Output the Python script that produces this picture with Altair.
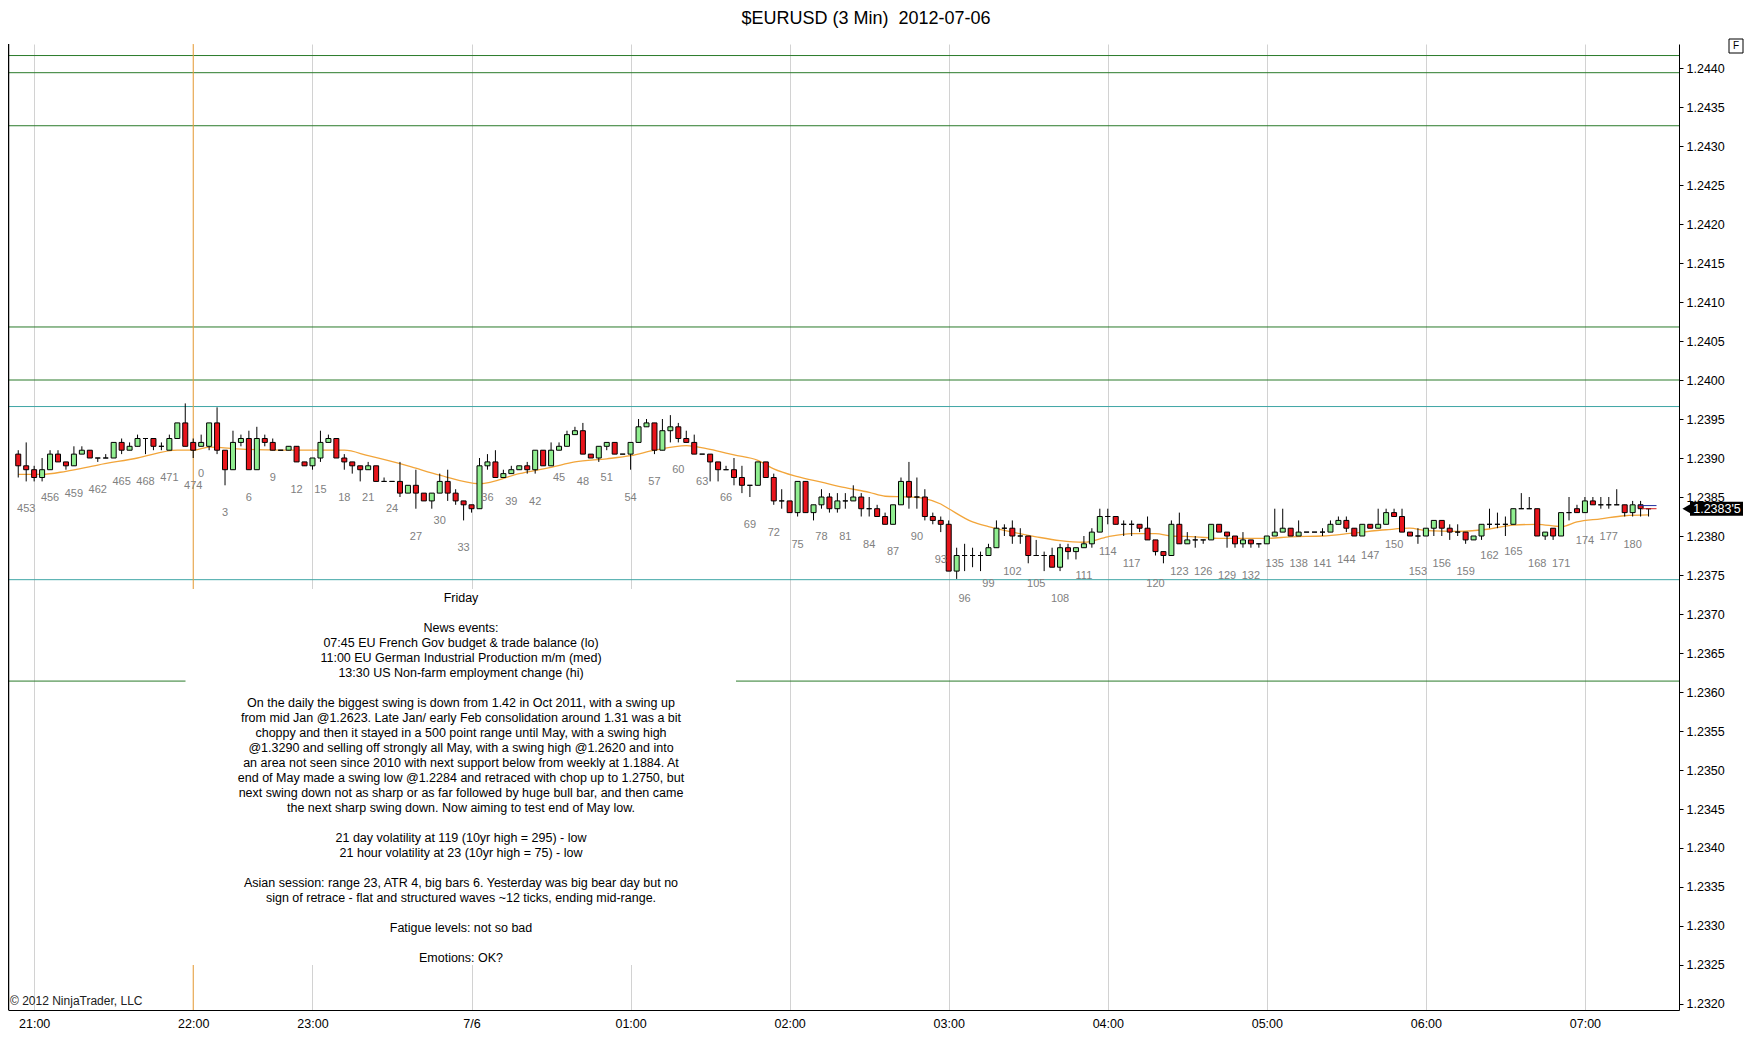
import altair as alt
import pandas as pd

# ---------------- data (prices stored as pips above 1.2300) ----------------
BASE = 1.2300

opens = [
    90.5, 89, 88.5, 87.5, 88.5, 90.5, 89.5, 89, 90.5, 91,
    90, 90, 90, 92, 91, 91.5, 92.5, 92.5, 91.5, 91,
    92.5, 94.5, 92, 91.5, 91.5, 94.5, 91, 88.5, 92, 92.5,
    88.5, 92.5, 92, 91, 91, 91.5, 89.5, 89, 90, 92,
    92.5, 90, 89.5, 89, 88.5, 89, 87, 87, 87, 85.5,
    86.5, 85.5, 84.5, 85.5, 87, 85.5, 84.5, 84, 83.5, 89,
    89.5, 87.5, 88, 88.5, 89, 88.5, 91, 89, 91, 91.5,
    93, 93.5, 90.5, 90, 91.5, 92, 90.5, 90.5, 92, 94,
    94.5, 91, 93.5, 94, 92.5, 92, 90.5, 90.5, 89.5, 88.5,
    88.5, 87.5, 86.5, 86.5, 89.5, 87.5, 84.5, 84.5, 83, 87,
    83, 84, 85, 83.5, 84.5, 84.5, 85, 83.5, 83.5, 82.5,
    81.5, 84, 87, 85, 85, 82.5, 82, 81.5, 75.5, 77.5,
    77.5, 77.5, 77.5, 78.5, 81, 81, 80, 80, 77.5, 77.5,
    77.5, 76, 78.5, 78, 78.5, 79, 80.5, 82.5, 82.5, 81.5,
    81.5, 81.5, 81, 79.5, 78, 77.5, 81.5, 79, 79.5, 79.5,
    79.5, 81.5, 80.5, 80, 79, 79.5, 79, 79, 80, 80.5,
    81, 80, 80.5, 80.5, 80.5, 80.5, 81.5, 82, 81, 80,
    81.5, 81, 81.5, 83, 82.5, 80.5, 80, 80, 81, 82,
    81, 80.5, 80.5, 79.5, 80, 81.5, 81.5, 81.5, 81.5, 83.5,
    83.5, 83.5, 80, 81, 80, 83, 83.5, 83, 84.5, 84,
    84, 84, 84, 83, 84, 83.5,
]
highs = [
    91, 92, 89, 90, 91, 91, 89.5, 91.5, 91.5, 91,
    90, 90.5, 92, 92.5, 92, 93, 92.5, 92.5, 92, 93,
    94.5, 97, 92.5, 93, 94.5, 96.5, 91, 93.5, 93, 93.5,
    94, 93, 92.5, 91, 91.5, 91.5, 89.5, 90, 93.5, 93,
    92.5, 90.5, 89.5, 89, 89.5, 89, 87.5, 87, 89.5, 86.5,
    88.5, 85.5, 85.5, 88, 88.5, 86, 84.5, 84, 90, 90.5,
    91, 88.5, 89, 89, 89.5, 91, 91, 92, 92, 93.5,
    94, 94.5, 90.5, 91.5, 92, 92, 90.5, 92, 95, 95,
    94.5, 95, 95.5, 94.5, 93.5, 93, 90.5, 90.5, 89.5, 89,
    90, 89, 86.5, 89.5, 89.5, 88, 86, 84.5, 87, 87,
    84, 86, 85.5, 85.5, 85.5, 86.5, 85.5, 85, 84, 83,
    84, 87.5, 89.5, 87.5, 86, 83, 82.5, 82, 78.5, 79,
    78.5, 78, 79, 82, 81.5, 82, 81, 80, 79.5, 78,
    78.5, 79, 79, 78.5, 80, 81, 83.5, 83.5, 82.5, 82,
    82, 81.5, 82.5, 79.5, 78, 82, 83, 80.5, 80, 79.5,
    81.5, 81.5, 80.5, 80, 80.5, 79.5, 79, 80, 83.5, 83.5,
    81, 82, 80.5, 80.5, 81, 82, 82.5, 82.5, 81, 81.5,
    81.5, 83.5, 83.5, 83.5, 83.5, 80.5, 81, 81, 82, 82,
    81.5, 81.5, 80.5, 80, 81.5, 83.5, 83, 82.5, 83.5, 85.5,
    85, 83.5, 80.5, 81, 83, 85, 84, 85, 85, 85,
    85, 86, 84, 84.5, 84.5, 83.5,
]
lows = [
    87.5, 87, 87, 87, 88.5, 89.5, 88.5, 89, 90.5, 90,
    89.5, 90, 90, 90.5, 91, 91.5, 90.5, 91, 91, 91,
    92.5, 91.5, 90, 91.5, 91, 90.5, 86.5, 88.5, 91.5, 88.5,
    88.5, 91.5, 91, 91, 91, 89.5, 89, 88.5, 89.5, 92,
    90, 88.5, 88, 87, 88.5, 87, 87, 87, 85, 85.5,
    83.5, 84.5, 83.5, 85.5, 84.5, 84, 82, 83, 83.5, 88.5,
    87.5, 87.5, 88, 88.5, 88, 88, 89, 89, 91, 91.5,
    93, 90.5, 90, 89.5, 91, 90.5, 90.5, 88.5, 92, 94,
    90.5, 91, 92, 92, 92, 90.5, 90.5, 87, 87, 88.5,
    86.5, 85.5, 85, 86.5, 87.5, 84, 83.5, 83, 82.5, 83,
    82, 83.5, 83, 83, 83.5, 84.5, 82.5, 82.5, 82.5, 81.5,
    81.5, 84, 83.5, 83.5, 82, 81.5, 80.5, 75.5, 74.5, 75.5,
    76, 75.5, 77.5, 78.5, 80, 79, 79, 76.5, 77.5, 75.5,
    76, 75.5, 77, 77, 78.5, 78.5, 80.5, 81.5, 81.5, 80,
    80, 80.5, 79.5, 77.5, 76.5, 77.5, 79, 79, 78.5, 79,
    79.5, 80.5, 78.5, 78.5, 78.5, 78.5, 78.5, 79, 80, 80.5,
    80, 80, 80.5, 80.5, 80, 80.5, 81.5, 80.5, 80, 80,
    81, 81, 81.5, 82.5, 80.5, 80, 79, 80, 80, 80,
    79.5, 80, 79, 79.5, 79.5, 81, 81, 80, 81.5, 83.5,
    83.5, 80, 79.5, 79.5, 80, 82, 83, 83, 84, 83.5,
    83.5, 84, 82.5, 82.5, 82.5, 82.5,
]
closes = [
    89, 88.5, 87.5, 88.5, 90.5, 89.5, 89, 90.5, 91, 90,
    90, 90, 92, 91, 91.5, 92.5, 92.5, 91.5, 91.5, 92.5,
    94.5, 91.5, 91, 92, 94.5, 91, 88.5, 92, 92.5, 88.5,
    92.5, 92, 91, 91, 91.5, 89.5, 89, 90, 92, 92.5,
    90, 89.5, 89, 88.5, 89, 87, 87, 87, 85.5, 86.5,
    85.5, 84.5, 85.5, 87, 85.5, 84.5, 84, 83.5, 89, 89.5,
    87.5, 88, 88.5, 89, 88.5, 91, 89, 91, 91.5, 93,
    93.5, 90.5, 90, 91.5, 92, 90.5, 90.5, 92, 94, 94.5,
    91, 93.5, 94, 92.5, 92, 90.5, 90.5, 89.5, 88.5, 88.5,
    87.5, 86.5, 86.5, 89.5, 87.5, 84.5, 84.5, 83, 87, 83,
    84, 85, 83.5, 84.5, 84.5, 85, 83.5, 83.5, 82.5, 81.5,
    84, 87, 85, 85, 82.5, 82, 81.5, 75.5, 77.5, 77.5,
    77.5, 77.5, 78.5, 81, 81, 80, 80, 77.5, 77.5, 77.5,
    76, 78.5, 78, 78.5, 79, 80.5, 82.5, 82.5, 81.5, 81.5,
    81.5, 81, 79.5, 78, 77.5, 81.5, 79, 79.5, 79.5, 79.5,
    81.5, 80.5, 80, 79, 79.5, 79, 79, 80, 80.5, 81,
    80, 80.5, 80.5, 80.5, 80.5, 81.5, 82, 81, 80, 81.5,
    81, 81.5, 83, 82.5, 80.5, 80, 80, 81, 82, 81,
    80.5, 80.5, 79.5, 80, 81.5, 81.5, 81.5, 81.5, 83.5, 83.5,
    83.5, 80, 80.5, 80, 83, 83, 83, 84.5, 84, 84,
    84, 84, 83, 84, 83.5, 83.5,
]
bar_numbers = list(range(452, 475)) + list(range(0, 183))

# moving average (bar position, pips above 1.2300)
ma_index = [0, 3, 6, 10, 15, 20, 22, 24, 29, 36, 41, 44, 49, 53, 58, 63, 67, 70,
            74, 77, 80, 84, 87, 90, 93, 95, 98, 101, 104, 107, 109, 112, 114,
            116, 117, 120, 122, 125, 128, 131, 134, 137, 140, 143, 145, 148, 151,
            154, 157, 160, 164, 168, 172, 175, 177, 181, 185, 188, 191, 194, 196,
            199, 202, 205]
ma_pips = [87.9, 87.9, 88.3, 89.1, 90.0, 91.0, 91.0, 91.4, 91.1, 91.0, 91.0, 90.3,
           89.0, 87.8, 86.7, 88.0, 88.8, 89.5, 89.9, 90.3, 91.0, 91.6, 91.1, 90.4,
           89.7, 88.6, 87.6, 86.9, 86.2, 85.6, 85.1, 85.0, 84.8, 84.1, 83.5, 81.8,
           81.2, 80.5, 79.9, 79.4, 79.2, 79.9, 80.3, 80.3, 80.0, 79.9, 79.7, 79.7,
           79.7, 79.9, 80.0, 80.4, 80.8, 81.0, 80.7, 80.6, 80.9, 81.4, 81.5, 81.2,
           81.8, 82.2, 82.6, 82.7]

time_index = [2, 22, 37, 57, 77, 97, 117, 137, 157, 177, 197]
time_labels = ["21:00", "22:00", "23:00", "7/6", "01:00", "02:00", "03:00",
               "04:00", "05:00", "06:00", "07:00"]
session_break_index = [22]

green_levels = [1.24416, 1.24394, 1.24326, 1.24068, 1.24000, 1.23614]
teal_levels = [1.23966, 1.23744]

last_price = 1.23835
last_price_text = "1.2383'5"
ask_price = 1.23839

title_text = "$EURUSD (3 Min) \u00a02012-07-06"
copyright_text = "\u00a9 2012 NinjaTrader, LLC"
note_lines = [
    "Friday",
    "",
    "News events:",
    "07:45 EU French Gov budget & trade balance (lo)",
    "11:00 EU German Industrial Production m/m (med)",
    "13:30 US Non-farm employment change (hi)",
    "",
    "On the daily the biggest swing is down from 1.42 in Oct 2011, with a swing up",
    "from mid Jan @1.2623. Late Jan/ early Feb consolidation around 1.31 was a bit",
    "choppy and then it stayed in a 500 point range until May, with a swing high",
    "@1.3290 and selling off strongly all May, with a swing high @1.2620 and into",
    "an area not seen since 2010 with next support below from weekly at 1.1884. At",
    "end of May made a swing low @1.2284 and retraced with chop up to 1.2750, but",
    "next swing down not as sharp or as far followed by huge bull bar, and then came",
    "the next sharp swing down. Now aiming to test end of May low.",
    "",
    "21 day volatility at 119 (10yr high = 295) - low",
    "21 hour volatility at 23 (10yr high = 75) - low",
    "",
    "Asian session: range 23, ATR 4, big bars 6. Yesterday was big bear day but no",
    "sign of retrace - flat and structured waves ~12 ticks, ending mid-range.",
    "",
    "Fatigue levels: not so bad",
    "",
    "Emotions: OK?",
]

# ---------------- frames ----------------
def px(v):
    return round(BASE + v / 10000.0, 6)

n = len(opens)
candles = pd.DataFrame({
    "i": list(range(n)),
    "o": [px(v) for v in opens],
    "h": [px(v) for v in highs],
    "l": [px(v) for v in lows],
    "c": [px(v) for v in closes],
    "label": [str(b) if b % 3 == 0 else "" for b in bar_numbers],
})
ma_df = pd.DataFrame({"i": ma_index, "v": [px(v) for v in ma_pips]})
one = pd.DataFrame({"a": [0]})

W, H = 1671, 966
FONT = "Liberation Sans"
GREEN_BODY = "#90EE90"
RED_BODY = "#E8141B"
ORANGE = "#F2A53A"
DKGREEN = "#2A7A2A"
TEAL = "#3FA6A6"

xs = alt.Scale(domain=[-0.66, 208.2], nice=False, zero=False)
ys = alt.Scale(domain=[1.231923, 1.244308], nice=False, zero=False)

label_expr = "[" + ",".join("'%s'" % t for t in time_labels) + "][indexof([" + \
    ",".join(str(v) for v in time_index) + "], datum.value)]"
xax = alt.Axis(values=time_index, labelExpr=label_expr, grid=True, gridColor="#D2D2D2",
               gridWidth=1, ticks=False, domainColor="black", domainWidth=1,
               labelColor="black", labelFont=FONT, labelFontSize=12.5, labelPadding=7,
               labelFlush=False, labelOverlap=False, title=None)
yvals = [round(1.2320 + k * 0.0005, 4) for k in range(25)]
yax = alt.Axis(orient="right", values=yvals, format=".4f", grid=False, tickSize=4,
               tickColor="black", domainColor="black", labelColor="black",
               labelFont=FONT, labelFontSize=12.5, labelPadding=3, title=None,
               labelFlush=False, labelOverlap=False)

X = alt.X("i:Q", scale=xs, axis=xax)


def Y(field):
    return alt.Y(field + ":Q", scale=ys, axis=yax)


green_rules = alt.Chart(pd.DataFrame({"p": green_levels})).mark_rule(
    color=DKGREEN, strokeWidth=1).encode(y=Y("p"))
teal_rules = alt.Chart(pd.DataFrame({"p": teal_levels})).mark_rule(
    color=TEAL, strokeWidth=1).encode(y=Y("p"))
session_rule = alt.Chart(pd.DataFrame({"i": session_break_index})).mark_rule(
    color=ORANGE, strokeWidth=1).encode(x=X)

note_box = alt.Chart(one).mark_rect(fill="white").encode(
    x=alt.value(177.5), x2=alt.value(728), y=alt.value(545), y2=alt.value(921))

# split the note into blocks of consecutive non-blank lines (blank lines keep their gap)
LINE_H = 15.03
FIRST_Y = 553.5
blocks = []
cur, start = [], None
for k, s in enumerate(note_lines):
    if s:
        if start is None:
            start = k
        cur.append(s)
    else:
        if cur:
            blocks.append((start, cur))
        cur, start = [], None
if cur:
    blocks.append((start, cur))

note_layers = []
for start, lines in blocks:
    note_layers.append(
        alt.Chart(pd.DataFrame({"t": ["\n".join(lines)]})).mark_text(
            lineBreak="\n", lineHeight=LINE_H, font=FONT, fontSize=12.5, color="black",
            align="center", baseline="middle").encode(
            x=alt.value(453), y=alt.value(FIRST_Y + start * LINE_H), text="t:N")
    )

ma_line = alt.Chart(ma_df).mark_line(color=ORANGE, strokeWidth=1.3,
                                     interpolate="monotone").encode(x=X, y=Y("v"))

wicks = alt.Chart(candles).mark_rule(color="black", strokeWidth=1).encode(
    x=X, y=Y("l"), y2="h:Q")
bodies = alt.Chart(candles).mark_bar(size=5, stroke="black", strokeWidth=1).encode(
    x=X, y=Y("o"), y2="c:Q",
    fill=alt.condition("datum.c >= datum.o", alt.value(GREEN_BODY), alt.value(RED_BODY)))
bar_labels = alt.Chart(candles).transform_filter("datum.label != ''").mark_text(
    font=FONT, fontSize=11, color="#808080", dy=28, baseline="middle").encode(
    x=X, y=Y("l"), text="label:N")

quote_df = pd.DataFrame({"x1": [203.8, 204.2], "x2": [206.0, 206.0],
                         "p": [ask_price, last_price], "col": ["#1F2F9F", "#D42020"]})
quote_lines = alt.Chart(quote_df).mark_rule(strokeWidth=1).encode(
    x=alt.X("x1:Q", scale=xs, axis=xax), x2="x2:Q", y=Y("p"),
    color=alt.Color("col:N", scale=None))

mk = pd.DataFrame({"p": [last_price], "lo": [last_price - 0.00009],
                   "hi": [last_price + 0.00009], "t": [last_price_text]})
marker_rect = alt.Chart(mk).mark_rect(fill="black").encode(
    x=alt.value(1682), x2=alt.value(1735), y=Y("lo"), y2="hi:Q")
marker_tri = alt.Chart(mk).mark_point(shape="triangle-left", filled=True,
                                      fill="black", opacity=1, size=110).encode(
    x=alt.value(1679), y=Y("p"))
marker_txt = alt.Chart(mk).mark_text(font=FONT, fontSize=12.5, color="white",
                                     align="center", baseline="middle").encode(
    x=alt.value(1709), y=Y("p"), text="t:N")

title = alt.Chart(one).mark_text(font=FONT, fontSize=18, color="black",
                                 align="center", baseline="middle").encode(
    x=alt.value(858), y=alt.value(-25), text=alt.value(title_text))
copyright_mark = alt.Chart(one).mark_text(font=FONT, fontSize=12, color="#202020",
                                          align="left", baseline="middle").encode(
    x=alt.value(2), y=alt.value(957), text=alt.value(copyright_text))
f_box = alt.Chart(one).mark_rect(fill="white", stroke="black", strokeWidth=1).encode(
    x=alt.value(1721), x2=alt.value(1735), y=alt.value(-5), y2=alt.value(9))
f_text = alt.Chart(one).mark_text(font=FONT, fontSize=10, color="black",
                                  align="center", baseline="middle").encode(
    x=alt.value(1728), y=alt.value(2), text=alt.value("F"))
left_border = alt.Chart(one).mark_rule(color="black", strokeWidth=1.5).encode(
    x=alt.value(0.5), y=alt.value(0), y2=alt.value(H))

chart = alt.layer(
    green_rules, teal_rules, session_rule, note_box, *note_layers, ma_line,
    wicks, bodies, bar_labels, quote_lines, marker_rect, marker_tri, marker_txt,
    title, copyright_mark, f_box, f_text, left_border,
).properties(
    width=W, height=H,
    padding={"left": 0, "top": 36, "right": 65, "bottom": 42},
    autosize=alt.AutoSizeParams(type="none"),
    background="white",
).configure_view(stroke="transparent")

chart.save("out.html", embed_options={"renderer": "svg", "actions": False})
